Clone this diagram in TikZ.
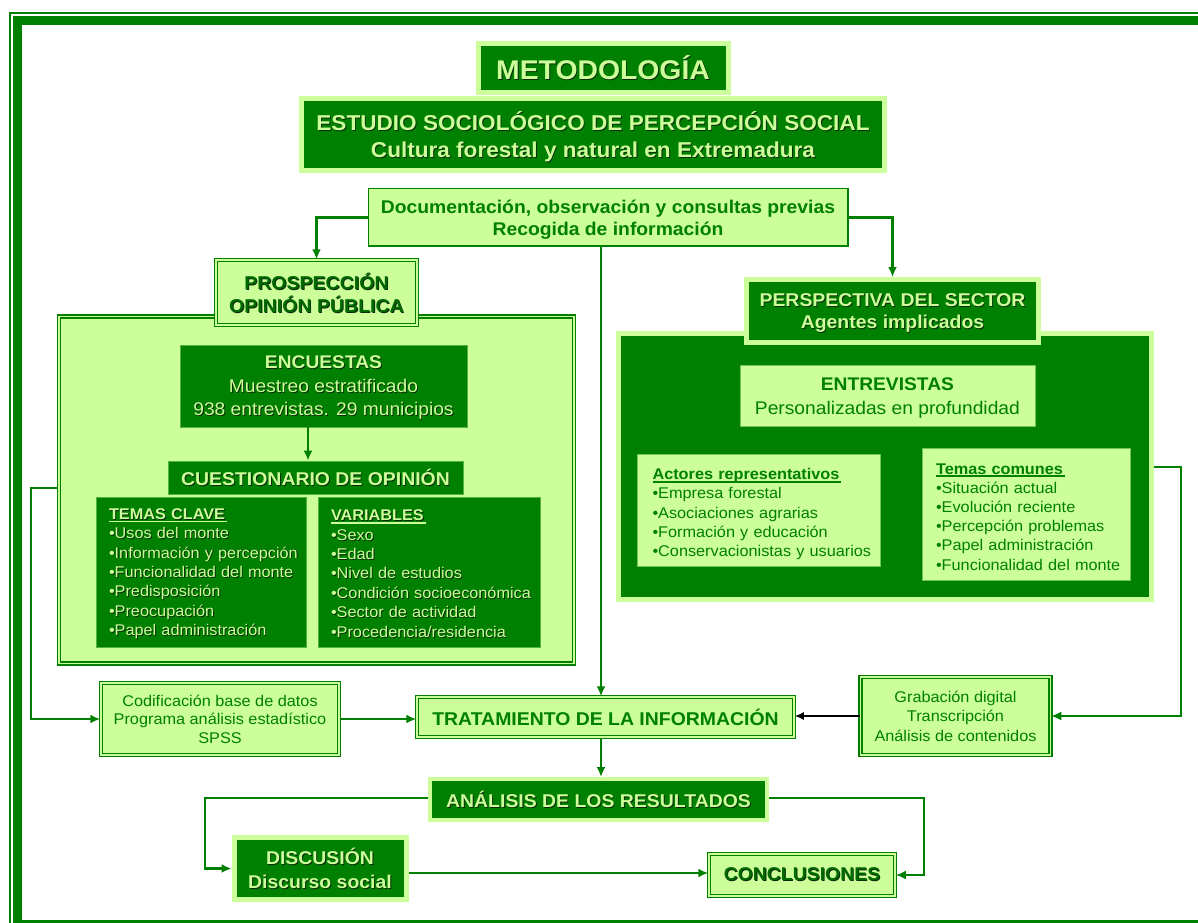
\documentclass[tikz,border=0pt]{standalone}
\usepackage{fontspec}
\setmainfont{Liberation Sans}[FakeStretch=1.05]
\usetikzlibrary{arrows.meta}
\definecolor{dkg}{HTML}{008000}
\definecolor{ltg}{HTML}{CCFF99}
\definecolor{shc}{HTML}{0B2B0B}
\definecolor{dtx}{HTML}{006A00}
\newcommand\shd[1]{\mbox{\rlap{\kern0.9pt\raisebox{-0.9pt}{\color{shc}#1}}#1}}
\newcommand\nbx[1]{\mbox{#1}}
\newcommand\hdl[1]{\setbox0=\hbox{#1}\mbox{\rlap{\rule[-3.2pt]{\dimexpr\wd0+2pt\relax}{1.8pt}}\box0}}
\newcommand\fs[2]{\fontsize{#1}{#2}\selectfont}
\tikzset{
  dbox/.style={draw=ltg, line width=5pt, fill=dkg, text=ltg, inner sep=0pt, align=center},
  lboxx/.style={draw=dkg, line width=1.5pt, double=ltg, double distance=1.3pt, fill=ltg, text=dkg, inner sep=0pt, align=center},
  ibox/.style={draw=dkg!60!ltg, line width=0.8pt, fill=dkg, text=ltg, inner sep=0pt, align=center},
  libox/.style={draw=dkg!45!ltg, line width=0.8pt, fill=ltg, text=dkg, inner sep=0pt, align=center},
  conn/.style={draw=dkg, line width=2.7pt, -{Latex[length=10pt,width=9pt]}},
  dp/.style={text depth=#1},
}
\begin{document}
\begin{tikzpicture}[x=1pt,y=-1pt]
\useasboundingbox (0,0) rectangle (1198,922);
\clip (0,0) rectangle (1198,922);
% frame
\draw[dkg, line width=2pt] (10,13) rectangle (1260,990);
\draw[dkg, line width=9pt] (17.5,20.5) rectangle (1250,924.5);

% title boxes
\node[dbox, minimum width=250, minimum height=49, font=\bfseries\fs{27}{30}] (metod) at (603,68) {\shd{METODOLOGÍA}};
\node[dbox, dp=0.5pt, minimum width=583, minimum height=72, font=\bfseries\fs{21.5}{27}] (estudio) at (593,134.5) {\shd{ESTUDIO SOCIOLÓGICO DE PERCEPCIÓN SOCIAL}\\\shd{Cultura forestal y natural en Extremadura}};
\node[draw=dkg, line width=1.5pt, fill=ltg, text=dkg, inner sep=0pt, dp=-5pt, minimum width=479.5, minimum height=57.5, font=\bfseries\fs{18.4}{22}, align=center] (doc) at (608,217.3) {Documentación, observación y consultas previas\\Recogida de información};

% left panel
\node[lboxx, minimum width=515, minimum height=347] (lpanel) at (316.5,490) {};
\node[lboxx, dp=-4pt, minimum width=201, minimum height=65, font=\bfseries\fs{18.6}{23}, text=dtx] (prosp) at (316.5,292.5) {\shd{PROSPECCIÓN}\\\shd{OPINIÓN PÚBLICA}};
\node[ibox, dp=-5pt, minimum width=287, minimum height=82, font=\fs{18.3}{23.5}] (encu) at (323.5,386) {\textbf{\shd{ENCUESTAS}}\\\shd{Muestreo estratificado}\\\shd{938 entrevistas. 29 municipios}};
\node[ibox, minimum width=295, minimum height=33, font=\bfseries\fs{18.5}{22}] (cuest) at (315.5,477.5) {\shd{CUESTIONARIO DE OPINIÓN}};
\node[ibox, minimum width=210, minimum height=150, text width=184, align=left, font=\fs{15.5}{19.4}] (temas) at (201,572) {\rule{0pt}{15pt}\textbf{\hdl{\shd{TEMAS CLAVE}}}\\\shd{•Usos del monte}\\\shd{•Información y percepción}\\\shd{•Funcionalidad del monte}\\\shd{•Predisposición}\\\shd{•Preocupación}\\\shd{•Papel administración}};
\node[ibox, minimum width=222, minimum height=150, text width=196, align=left, font=\fs{15.5}{19.4}] (vars) at (429,572) {\rule{0pt}{15pt}\textbf{\hdl{\shd{VARIABLES}}}\\\shd{•Sexo}\\\shd{•Edad}\\\shd{•Nivel de estudios}\\\shd{•Condición socioeconómica}\\\shd{•Sector de actividad}\\\shd{•Procedencia/residencia}};

% right panel
\node[dbox, minimum width=533, minimum height=266] (rpanel) at (885,466.5) {};
\node[dbox, dp=-5pt, minimum width=292, minimum height=63, font=\bfseries\fs{18.5}{21.5}] (persp) at (892.5,311) {\shd{PERSPECTIVA DEL SECTOR}\\\shd{Agentes implicados}};
\node[libox, dp=-6pt, minimum width=295, minimum height=61, font=\fs{18.3}{23.5}] (entrev) at (887.4,396) {\textbf{ENTREVISTAS}\\Personalizadas en profundidad};
\node[libox, minimum width=243, minimum height=112, text width=213, align=left, font=\fs{15.5}{19.2}] (actores) at (759,510) {\rule{0pt}{19.3pt}\textbf{\hdl{Actores representativos}}\\\nbx{•Empresa forestal}\\\nbx{•Asociaciones agrarias}\\\nbx{•Formación y educación}\\\nbx{•Conservacionistas y usuarios}};
\node[libox, minimum width=208, minimum height=132, text width=180, align=left, font=\fs{15.5}{19.2}] (temasc) at (1026,514) {\rule{0pt}{16.3pt}\textbf{\hdl{Temas comunes}}\\\nbx{•Situación actual}\\\nbx{•Evolución reciente}\\\nbx{•Percepción problemas}\\\nbx{•Papel administración}\\\nbx{•Funcionalidad del monte}};

% lower boxes
\node[lboxx, dp=-4pt, minimum width=238, minimum height=72, font=\fs{15.5}{18.5}] (codif) at (220,719) {Codificación base de datos\\Programa análisis estadístico\\SPSS};
\node[lboxx, minimum width=377, minimum height=40, font=\bfseries\fs{18.5}{22}] (trat) at (605.5,717) {TRATAMIENTO DE LA INFORMACIÓN};
\node[lboxx, dp=-5pt, minimum width=190, minimum height=78, font=\fs{15.5}{19.5}] (grab) at (955.5,716) {Grabación digital\\Transcripción\\Análisis de contenidos};
\node[dbox, line width=4pt, minimum width=337, minimum height=41, font=\bfseries\fs{18.5}{22}] (anal) at (598.5,799.5) {\shd{ANÁLISIS DE LOS RESULTADOS}};
\node[dbox, dp=-2pt, minimum width=172, minimum height=62, font=\bfseries\fs{18.5}{24}] (disc) at (320,868.5) {\shd{DISCUSIÓN}\\\shd{Discurso social}};
\node[lboxx, minimum width=186, minimum height=42, font=\bfseries\fs{18.5}{22}, text=dtx] (concl) at (802,875) {\shd{CONCLUSIONES}};

% helper coordinates
\coordinate (vx) at (601,0);
\coordinate (ex) at (308,0);
\coordinate (lj) at (31,488);
\coordinate (rj) at (1181,467);
\coordinate (dj) at (205,798);
\coordinate (cj) at (924,798);
\coordinate (cy) at (0,873);

% connectors
\draw[conn] (doc.west) -| (prosp.north);
\draw[conn] (doc.east) -| (persp.north);
\draw[conn] (doc.south -| vx) -- (trat.north -| vx);
\draw[conn] (encu.south -| ex) -- (cuest.north -| ex);
\draw[conn] (lj -| lpanel.west) -- (lj) |- (codif.west);
\draw[conn] (codif.east) -- (codif.east -| trat.west);
\draw[draw=black, line width=1.6pt, -{Latex[length=9pt,width=8pt]}] (grab.west) -- (grab.west -| trat.east);
\draw[conn] (rj -| rpanel.east) -- (rj) |- (grab.east);
\draw[conn] (trat.south -| vx) -- (anal.north -| vx);
\draw[conn] (dj -| anal.west) -- (dj) |- (disc.west);
\draw[conn] (cj -| anal.east) -- (cj) |- (concl.east);
\draw[conn] (disc.east |- cy) -- (concl.west |- cy);
\end{tikzpicture}
\end{document}
